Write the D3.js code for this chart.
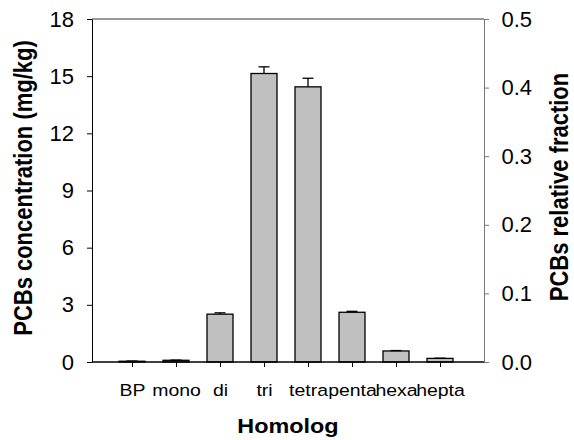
<!DOCTYPE html>
<html>
<head>
<meta charset="utf-8">
<script src="https://cdn.jsdelivr.net/npm/d3@7"></script>
<style>
  body { margin: 0; background: #fff; }
  text { font-family: "Liberation Sans", Arial, sans-serif; }
</style>
</head>
<body>
<script>
const homologs = ["BP", "mono", "di", "tri", "tetra", "penta", "hexa", "hepta"];
const concentration = [0.04, 0.09, 2.51, 15.14, 14.44, 2.61, 0.58, 0.19];
const errors = [0.01, 0.01, 0.07, 0.35, 0.45, 0.05, 0.02, 0.01];
const leftTicks = [0, 3, 6, 9, 12, 15, 18];
const rightTicks = [0, 0.1, 0.2, 0.3, 0.4, 0.5];

const W = 574, H = 440;
const plot = { left: 92, right: 484, top: 19, bottom: 362 };

const svg = d3.select("body").append("svg")
    .attr("width", W)
    .attr("height", H);

// categories sit at 1..8 on a 0..9 axis
const x = d3.scaleLinear().domain([0, 9]).range([88, plot.right]);
const y = d3.scaleLinear().domain([0, 18]).range([plot.bottom, plot.top]);
const y2 = d3.scaleLinear().domain([0, 0.5]).range([plot.bottom, plot.top]);

const barW = 26;

// top frame line
svg.append("line")
    .attr("x1", plot.left).attr("x2", plot.right)
    .attr("y1", plot.top).attr("y2", plot.top)
    .attr("stroke", "#333").attr("stroke-width", 1);

// bars
svg.selectAll(".bar")
    .data(concentration)
  .enter().append("rect")
    .attr("class", "bar")
    .attr("x", (d, i) => x(i + 1) - barW / 2)
    .attr("y", d => y(d))
    .attr("width", barW)
    .attr("height", d => y(0) - y(d))
    .attr("fill", "#c0c0c0")
    .attr("stroke", "#000")
    .attr("stroke-width", 1.3);

// error bars (upper only)
const err = svg.selectAll(".err")
    .data(concentration)
  .enter().append("g")
    .attr("class", "err");

err.append("line")
    .attr("x1", (d, i) => x(i + 1)).attr("x2", (d, i) => x(i + 1))
    .attr("y1", d => y(d)).attr("y2", (d, i) => y(d + errors[i]))
    .attr("stroke", "#000").attr("stroke-width", 1.3);

err.append("line")
    .attr("x1", (d, i) => x(i + 1) - 5.5).attr("x2", (d, i) => x(i + 1) + 5.5)
    .attr("y1", (d, i) => y(d + errors[i])).attr("y2", (d, i) => y(d + errors[i]))
    .attr("stroke", "#000").attr("stroke-width", 1.3);

// x axis
const xAxis = svg.append("g")
    .attr("transform", "translate(0," + plot.bottom + ")")
    .call(d3.axisBottom(x)
        .tickValues(d3.range(1, 9))
        .tickFormat(d => homologs[d - 1])
        .tickSize(5)
        .tickSizeOuter(0));
xAxis.select(".domain").remove();
xAxis.append("line")
    .attr("x1", plot.left).attr("x2", plot.right)
    .attr("stroke", "#000").attr("stroke-width", 1.3);
xAxis.selectAll(".tick line").attr("stroke", "#000");
// labels in the source look a little stretched sideways
xAxis.selectAll(".tick text")
    .attr("y", 34.5)
    .attr("dy", null)
    .attr("transform", "scale(1.18,1)")
    .style("font-size", "16.5px")
    .attr("fill", "#000");

// left axis
const yAxis = svg.append("g")
    .attr("transform", "translate(" + plot.left + ",0)")
    .call(d3.axisLeft(y).tickValues(leftTicks).tickSize(5).tickSizeOuter(0));
yAxis.select(".domain").attr("stroke", "#000");
yAxis.selectAll(".tick text")
    .attr("x", -18)
    .style("font-size", "22px")
    .attr("fill", "#000");

// right axis
const yAxis2 = svg.append("g")
    .attr("transform", "translate(" + plot.right + ",0)")
    .call(d3.axisRight(y2).tickValues(rightTicks).tickFormat(d3.format(".1f")).tickSize(5).tickSizeOuter(0));
yAxis2.select(".domain").attr("stroke", "#777");
yAxis2.selectAll(".tick line").attr("stroke", "#777");
yAxis2.selectAll(".tick text")
    .attr("x", 17.5)
    .style("font-size", "22px")
    .attr("fill", "#000");

// axis titles
svg.append("text")
    .attr("transform", "translate(32,188) rotate(-90) scale(1,1.15)")
    .attr("text-anchor", "middle")
    .style("font-size", "22px")
    .style("font-weight", "bold")
    .text("PCBs concentration (mg/kg)");

svg.append("text")
    .attr("transform", "translate(568,187) rotate(-90) scale(1,1.15)")
    .attr("text-anchor", "middle")
    .style("font-size", "22px")
    .style("font-weight", "bold")
    .text("PCBs relative fraction");

svg.append("text")
    .attr("transform", "translate(288,433) scale(1.2,1)")
    .attr("text-anchor", "middle")
    .style("font-size", "19.5px")
    .style("font-weight", "bold")
    .text("Homolog");
</script>
</body>
</html>
